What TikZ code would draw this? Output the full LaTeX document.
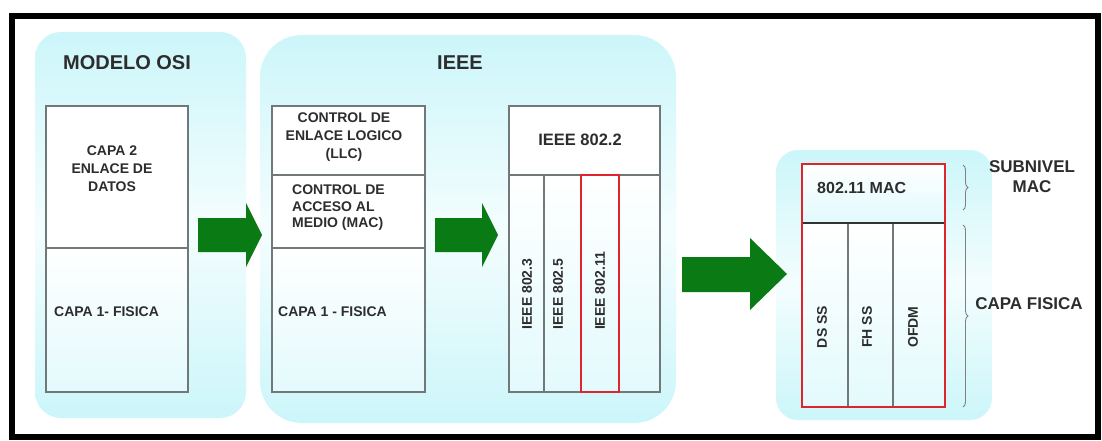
\documentclass[tikz,border=0pt]{standalone}
\usepackage{fontspec}
\setmainfont{Liberation Sans}
\usetikzlibrary{positioning, decorations.pathreplacing}

\definecolor{panelcyan}{RGB}{204,246,250}
\definecolor{arrowgreen}{RGB}{10,122,20}
\definecolor{boxgray}{RGB}{112,120,122}
\definecolor{markred}{RGB}{222,36,44}
\definecolor{inkgray}{RGB}{45,45,45}

\begin{document}
\begin{tikzpicture}[x=1pt, y=-1pt,
  panel/.style={anchor=north west, outer sep=0pt, inner sep=0pt,
    top color=panelcyan, bottom color=panelcyan, middle color=panelcyan!22},
  cell/.style={draw=boxgray, line width=1.2pt, anchor=north west,
    outer sep=0pt, inner sep=0pt, fill=white},
  lowcell/.style={cell, fill=none, top color=white, bottom color=panelcyan!55},
  redbox/.style={draw=markred, line width=2.6pt},
  greenarrow/.style={fill=arrowgreen},
  title/.style={text=inkgray, font=\bfseries\fontsize{20}{24}\selectfont},
  txt/.style={text=inkgray, inner sep=0pt, font=\bfseries\fontsize{14}{18}\selectfont},
  bigtxt/.style={text=inkgray, inner sep=0pt, font=\bfseries\fontsize{17}{20}\selectfont},
  bracket/.style={draw=gray, line width=0.9pt,
    decorate, decoration={brace, amplitude=5pt}}]

  \useasboundingbox (0,0) rectangle (1102,441);
  \fill[white] (0,0) rectangle (1102,441);

  % panels
  \node[panel, rounded corners=26pt, minimum width=211pt, minimum height=386pt] (osiPanel) at (35,32) {};
  \node[panel, rounded corners=42pt, minimum width=416pt, minimum height=388pt] (ieeePanel) at (260,35) {};
  \node[panel, rounded corners=22pt, minimum width=216pt, minimum height=270pt] (wifiPanel) at (776,150) {};

  \node[title] (osiTitle) at (127,63) {MODELO OSI};
  \node[title] (ieeeTitle) at (460,63) {IEEE};

  % modelo OSI
  \node[cell, minimum width=142pt, minimum height=142pt] (osiUp) at (46,106) {};
  \node[lowcell, minimum width=142pt, minimum height=144pt] (osiLow) at (osiUp.south west) {};
  \node[txt, align=center] (osiUpTxt) at (112,169) {CAPA 2\\ENLACE DE\\DATOS};
  \node[txt, anchor=west] (osiLowTxt) at (54,312) {CAPA 1- FISICA};

  % IEEE: LLC / MAC / fisica
  \node[cell, minimum width=153pt, minimum height=69pt] (llc) at (272,106) {};
  \node[cell, minimum width=153pt, minimum height=73pt] (mac) at (llc.south west) {};
  \node[lowcell, minimum width=153pt, minimum height=144pt] (phy) at (mac.south west) {};
  \node[txt, align=center] (llcTxt) at (344,137) {CONTROL DE\\ENLACE LOGICO\\(LLC)};
  \node[txt, align=left, anchor=west, font=\bfseries\fontsize{14}{16.5}\selectfont] (macTxt) at (292,208) {CONTROL DE\\ACCESO AL\\MEDIO (MAC)};
  \node[txt, anchor=west] (phyTxt) at (278,312) {CAPA 1 - FISICA};

  % IEEE 802.x
  \node[cell, minimum width=151pt, minimum height=69pt] (llc22) at (509,106) {};
  \node[lowcell, minimum width=35pt, minimum height=217pt] (col3) at (llc22.south west) {};
  \node[lowcell, minimum width=37pt, minimum height=217pt] (col5) at (col3.north east) {};
  \node[lowcell, minimum width=38pt, minimum height=217pt] (col11) at (col5.north east) {};
  \node[lowcell, minimum width=41pt, minimum height=217pt] (colFree) at (col11.north east) {};
  \draw[redbox] (col11.north west) rectangle (col11.south east);
  \node[txt, font=\bfseries\fontsize{16.5}{20}\selectfont] (llc22Txt) at (580,140) {IEEE 802.2};
  \node[txt, rotate=90] (col3Txt) at (527,294) {IEEE 802.3};
  \node[txt, rotate=90] (col5Txt) at (558,294) {IEEE 802.5};
  \node[txt, rotate=90] (col11Txt) at (600,291) {IEEE 802.11};

  % 802.11
  \node[cell, fill=none, top color=white, bottom color=panelcyan!60, minimum width=143pt, minimum height=59pt] (wMac) at (802,164) {};
  \node[lowcell, minimum width=46pt, minimum height=184pt] (dsss) at (wMac.south west) {};
  \node[lowcell, minimum width=45pt, minimum height=184pt] (fhss) at (dsss.north east) {};
  \node[lowcell, minimum width=52pt, minimum height=184pt] (ofdm) at (fhss.north east) {};
  \draw[line width=2.2pt, black!80] (wMac.south west) -- (wMac.south east);
  \draw[redbox] (wMac.north west) rectangle (ofdm.south east);
  \node[txt, anchor=west, font=\bfseries\fontsize{16}{20}\selectfont] (wMacTxt) at (817,188) {802.11 MAC};
  \node[txt, rotate=90] (dsssTxt) at (822,327) {DS SS};
  \node[txt, rotate=90] (fhssTxt) at (867,327) {FH SS};
  \node[txt, rotate=90] (ofdmTxt) at (913,327) {OFDM};

  % llaves
  \coordinate (subTop) at (963,165);
  \coordinate (subBot) at (963,210);
  \coordinate (phyTop) at (963,225);
  \coordinate (phyBot) at (963,407);
  \draw[bracket] (subTop) -- (subBot);
  \draw[bracket] (phyTop) -- (phyBot);
  \node[bigtxt, align=center] (subTxt) at (1032,177) {SUBNIVEL\\MAC};
  \node[bigtxt] (capaTxt) at (1029,304) {CAPA FISICA};

  % flechas
  \fill[greenarrow] (198,218) -- (246,218) -- (246,203) -- (262,235) -- (246,267) -- (246,252) -- (198,252) -- cycle;
  \fill[greenarrow] (435,218) -- (482,218) -- (482,203) -- (498,235) -- (482,267) -- (482,252) -- (435,252) -- cycle;
  \fill[greenarrow] (682,257) -- (750,257) -- (750,238) -- (787,274) -- (750,310) -- (750,292) -- (682,292) -- cycle;

  % marco
  \draw[line width=6pt] (12,16) rectangle (1098,437);
\end{tikzpicture}
\end{document}
